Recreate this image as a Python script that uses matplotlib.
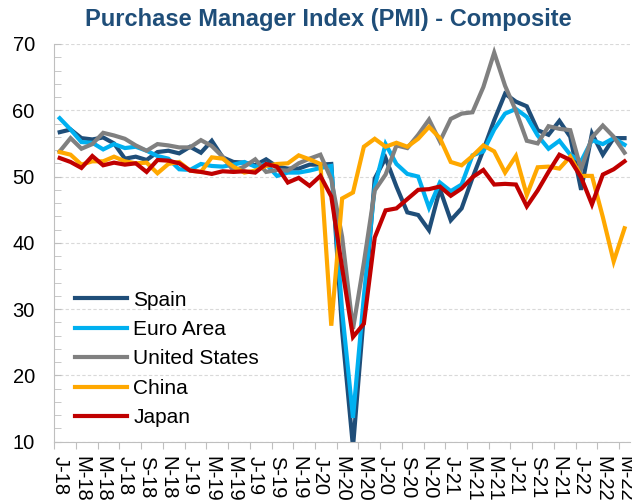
import numpy as np
import pandas as pd
import matplotlib
matplotlib.use('Agg')
import matplotlib.pyplot as plt

plt.rcParams['font.family'] = ['Liberation Sans', 'DejaVu Sans']

# monthly composite PMI, Jan 2018 - May 2022
months = pd.date_range('2018-01-01', '2022-05-01', freq='MS')

spain = [56.7, 57.1, 55.8, 55.6, 55.9, 55.0, 52.7, 53.0, 52.5, 53.7, 53.9, 53.5,
         54.5, 53.6, 55.4, 52.9, 52.2, 52.1, 51.7, 52.6, 51.5, 51.2, 51.2, 51.8,
         51.8, 51.9, 26.7, 9.2, 29.2, 49.7, 52.8, 48.5, 44.6, 44.2, 41.9, 48.1,
         43.4, 45.2, 49.8, 54.0, 58.5, 62.5, 61.3, 60.6, 57.0, 56.3, 58.4, 56.0,
         48.0, 56.5, 53.3, 55.8, 55.8]
euro = [58.8, 57.1, 55.2, 55.1, 54.1, 54.9, 54.3, 54.5, 53.9, 53.1, 52.7, 51.1,
        51.0, 51.9, 51.6, 51.5, 51.8, 52.2, 51.5, 51.9, 50.1, 50.6, 50.6, 50.9,
        51.3, 51.6, 29.7, 13.6, 31.9, 48.5, 54.9, 51.9, 50.4, 50.0, 45.3, 49.1,
        47.8, 48.8, 53.2, 53.8, 57.1, 59.5, 60.2, 59.0, 56.2, 54.2, 55.4, 53.3,
        52.3, 55.5, 54.9, 55.8, 54.8]
usa = [53.8, 55.8, 54.2, 54.9, 56.6, 56.2, 55.7, 54.7, 53.9, 54.9, 54.7, 54.4,
       54.4, 55.5, 54.6, 53.0, 50.9, 51.5, 52.6, 50.7, 51.0, 50.9, 52.0, 52.7,
       53.3, 49.6, 40.9, 27.0, 37.0, 47.9, 50.3, 54.7, 54.3, 56.3, 58.6, 55.3,
       58.7, 59.5, 59.7, 63.5, 68.7, 63.7, 59.9, 55.4, 55.0, 57.6, 57.2, 57.0,
       51.1, 55.9, 57.7, 56.0, 53.6]
china = [53.7, 53.3, 51.8, 52.3, 52.3, 53.0, 52.3, 52.0, 52.1, 50.5, 51.9, 52.2,
         50.9, 50.7, 52.9, 52.7, 51.5, 50.6, 50.9, 51.6, 51.9, 52.0, 53.2, 52.6,
         51.9, 27.5, 46.7, 47.6, 54.5, 55.7, 54.5, 55.1, 54.5, 55.7, 57.5, 55.8,
         52.2, 51.7, 53.1, 54.7, 53.8, 50.6, 53.1, 47.2, 51.4, 51.5, 51.2, 53.0,
         50.1, 50.1, 43.9, 37.2, 42.2]
japan = [52.8, 52.2, 51.3, 53.1, 51.7, 52.1, 51.8, 52.0, 50.7, 52.5, 52.4, 52.0,
         50.9, 50.7, 50.4, 50.8, 50.7, 50.8, 50.6, 51.9, 51.5, 49.1, 49.8, 48.6,
         50.1, 47.0, 36.2, 25.8, 27.8, 40.8, 44.9, 45.2, 46.6, 48.0, 48.1, 48.5,
         47.1, 48.2, 49.9, 51.0, 48.8, 48.9, 48.8, 45.5, 47.9, 50.7, 53.3, 52.5,
         49.9, 45.8, 50.3, 51.1, 52.3]

names = ['Spain', 'Euro Area', 'United States', 'China', 'Japan']
colors = ['#1F4E79', '#00B0F0', '#808080', '#FFA800', '#C00000']
series = [spain, euro, usa, china, japan]

labels = ['JFMAMJJASOND'[d.month - 1] + '-' + d.strftime('%y') for d in months]

fig = plt.figure(figsize=(6.32, 5.04), dpi=100)
ax = fig.add_axes([0.0859, 0.1236, 0.9109, 0.7891])

x = np.arange(len(months))
for vals, name, c in zip(series, names, colors):
    ax.plot(x, vals, color=c, lw=3, label=name, solid_joinstyle='miter')

ax.set_xlim(-0.5, len(months) - 0.5)
ax.set_ylim(10, 70)

# y axis: labels every 10, small marks every 2
ax.set_yticks(np.arange(10, 71, 10))
ax.set_yticks(np.arange(10, 71, 2), minor=True)
ax.tick_params(axis='y', which='both', direction='in', length=5, color='#BFBFBF',
               labelsize=14.5, pad=14)
ax.yaxis.grid(True, which='major', color='#D9D9D9', linestyle=(0, (3, 2)), lw=0.8)

# x axis: marks between months, labels on every second month
ax.set_xticks(np.arange(-0.5, len(months), 2))
ax.set_xticklabels([])
ax.set_xticks(x[::2], minor=True)
ax.set_xticklabels(labels[::2], minor=True, rotation=-90, fontsize=14.5)
ax.tick_params(axis='x', which='major', direction='out', length=5, color='#BFBFBF')
ax.tick_params(axis='x', which='minor', length=0, pad=10)

for s in ['top', 'right']:
    ax.spines[s].set_visible(False)
for s in ['left', 'bottom']:
    ax.spines[s].set_color('#BFBFBF')
ax.set_axisbelow(True)

ax.legend(loc='upper left', bbox_to_anchor=(0.036, 0.38), frameon=False,
          fontsize=15, handlelength=2.5, handletextpad=0.3, labelspacing=0.5,
          borderpad=0, borderaxespad=0)

fig.text(0.519, 0.985, 'Purchase Manager Index (PMI) - Composite', ha='center', va='top',
         fontsize=17, fontweight='bold', color='#1F4E79')

fig.savefig('out.png', dpi=100)
